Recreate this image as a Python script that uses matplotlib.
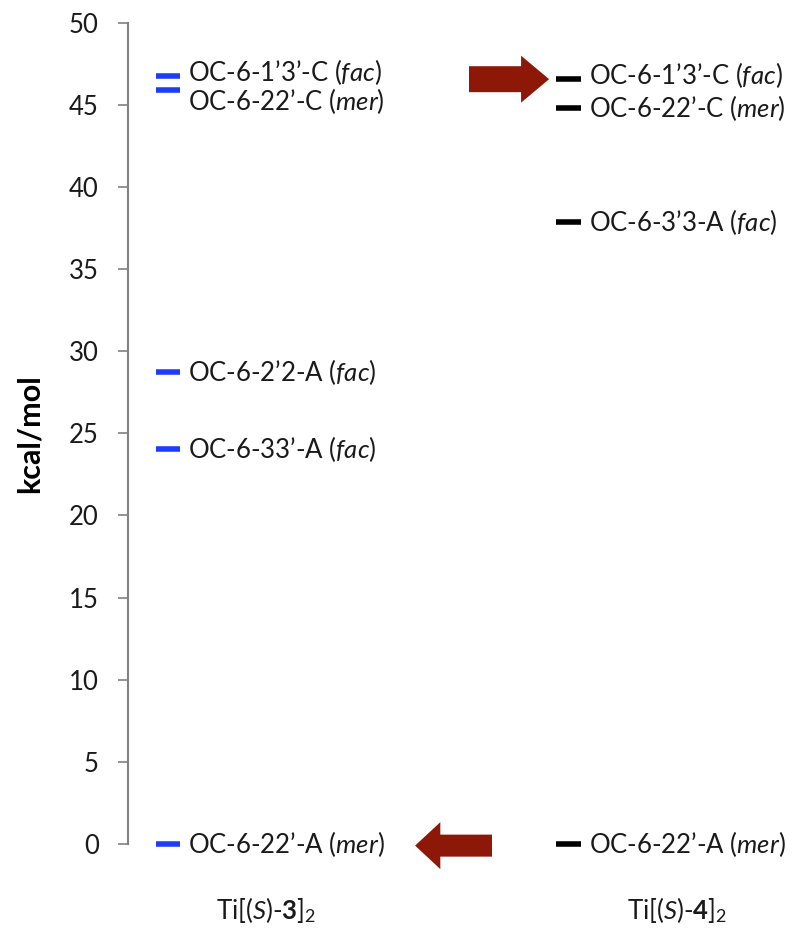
import matplotlib
matplotlib.use("Agg")
import matplotlib.pyplot as plt
from matplotlib.patches import FancyArrow

plt.rcParams['font.family'] = ['Lato', 'DejaVu Sans']
plt.rcParams['mathtext.fontset'] = 'custom'
plt.rcParams['mathtext.rm'] = 'Lato'
plt.rcParams['mathtext.it'] = 'Lato:italic'
plt.rcParams['mathtext.bf'] = 'Lato:bold'

# Energy levels (kcal/mol) for the two complexes
COMPLEXES = [r"Ti[($\mathit{S}$)-$\mathbf{3}$]$_{\mathrm{2}}$",
             r"Ti[($\mathit{S}$)-$\mathbf{4}$]$_{\mathrm{2}}$"]

LEVELS_3 = [46.73, 45.88, 28.76, 24.07, 0.0]
NAMES_3 = [r"OC-6-1’3’-C ($\mathit{fac}$)",
           r"OC-6-22’-C ($\mathit{mer}$)",
           r"OC-6-2’2-A ($\mathit{fac}$)",
           r"OC-6-33’-A ($\mathit{fac}$)",
           r"OC-6-22’-A ($\mathit{mer}$)"]

LEVELS_4 = [46.56, 44.83, 37.84, 0.0]
NAMES_4 = [r"OC-6-1’3’-C ($\mathit{fac}$)",
           r"OC-6-22’-C ($\mathit{mer}$)",
           r"OC-6-3’3-A ($\mathit{fac}$)",
           r"OC-6-22’-A ($\mathit{mer}$)"]

YTICKS = [0, 5, 10, 15, 20, 25, 30, 35, 40, 45, 50]

# label nudges in points (to keep close labels apart)
NUDGE_3 = [3.5, -7.5, 0, 0, 0]
NUDGE_4 = [3, 0, 0, 0]

BLUE = '#1E3CFF'
ARROW = '#8E1808'
TEXT = '#1a1a1a'
FS = 18.5

FIG = plt.figure(figsize=(8.12, 9.41), dpi=100)
AX = FIG.add_axes([0.1576, 0.1031, 0.8424, 0.8728])

AX.set_xlim(-0.0999, 1.608)
AX.set_ylim(0, 50)


def draw_levels(x, levels, names, nudges, color):
    AX.hlines(levels, x - 0.03, x + 0.03, colors=color, linewidth=4,
              clip_on=False)
    for lev, name, nud in zip(levels, names, nudges):
        AX.annotate(name, (x + 0.05, lev), xytext=(0, nud),
                    textcoords='offset points', va='center', ha='left',
                    fontsize=FS, color=TEXT, annotation_clip=False)


draw_levels(0, LEVELS_3, NAMES_3, NUDGE_3, BLUE)
draw_levels(1, LEVELS_4, NAMES_4, NUDGE_4, 'black')

# arrows pointing at the lowest / highest states
AX.add_patch(FancyArrow(0.7516, LEVELS_4[0], 0.2, 0, width=1.58,
                        head_width=2.86, head_length=0.07,
                        length_includes_head=True, color=ARROW,
                        clip_on=False, linewidth=0))
AX.add_patch(FancyArrow(0.809, LEVELS_3[-1] - 0.1, -0.192, 0, width=1.34,
                        head_width=2.86, head_length=0.063,
                        length_includes_head=True, color=ARROW,
                        clip_on=False, linewidth=0))

# complex names below the axis
for xc, name in zip([0.245, 1.271], COMPLEXES):
    AX.text(xc, -4.0, name, ha='center', va='center', fontsize=FS,
            color=TEXT, clip_on=False)

AX.set_yticks(YTICKS)
AX.set_xticks([])
AX.tick_params(axis='y', direction='out', length=7, width=1.2,
               color='#808080', pad=14, labelsize=FS, labelcolor=TEXT)
for side in ['top', 'right', 'bottom']:
    AX.spines[side].set_visible(False)
AX.spines['left'].set_color('#808080')
AX.spines['left'].set_linewidth(1.5)

AX.set_ylabel('kcal/mol', fontsize=22, fontweight='bold', color='black',
              labelpad=18)

FIG.savefig('out.png', dpi=100)
